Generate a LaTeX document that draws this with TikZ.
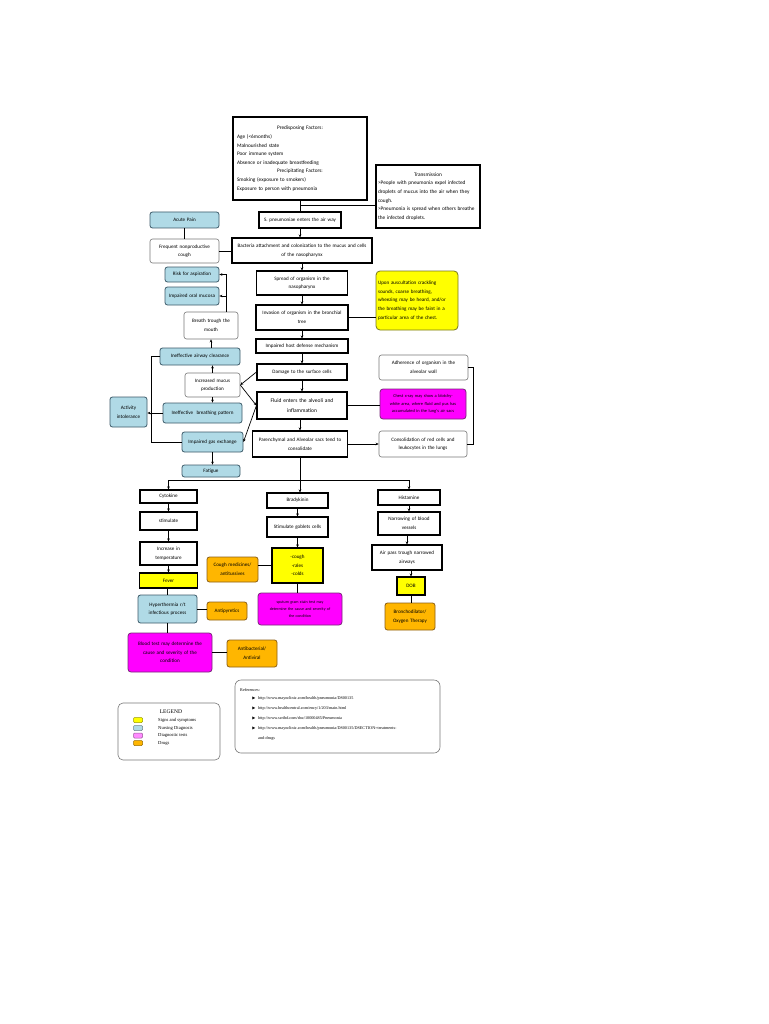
\documentclass[tikz,border=0pt]{standalone}
\usepackage{fontspec}
\setmainfont{Carlito}
\newfontfamily\reffont{Liberation Serif}
\newfontfamily\symfont{DejaVu Sans}
\usetikzlibrary{arrows.meta}
\definecolor{nblue}{RGB}{176,218,230}
\definecolor{nbluedraw}{RGB}{60,90,105}
\definecolor{norange}{RGB}{255,182,0}
\definecolor{norangedraw}{RGB}{140,95,20}
\definecolor{nmag}{RGB}{255,0,255}
\definecolor{nmagdraw}{RGB}{120,40,120}
\definecolor{nmaglt}{RGB}{255,140,255}
\definecolor{nyel}{RGB}{255,255,0}
\definecolor{nyeldraw}{RGB}{120,120,30}
\definecolor{lgray}{RGB}{120,120,120}
\tikzset{
  sz/.code 2 args={\pgfmathsetlengthmacro\boxtw{#1-4}\edef\boxtmp{\noexpand\pgfkeysalso{text width=\boxtw,minimum width=#1pt,minimum height=#2pt}}\boxtmp},
  base/.style={font=\fontsize{5.1}{8.6}\selectfont, align=center, inner sep=1pt},
  rbox/.style={base, draw=black, line width=1.1pt, fill=white},
  wbox/.style={base, draw=lgray, line width=0.6pt, rounded corners=2.5pt, fill=white},
  bbox/.style={base, draw=nbluedraw, line width=0.8pt, rounded corners=2.5pt, fill=nblue},
  obox/.style={base, draw=norangedraw, line width=0.8pt, rounded corners=2.5pt, fill=norange},
  mbox/.style={base, draw=nmagdraw, line width=0.8pt, rounded corners=3pt, fill=nmag},
  ybox/.style={base, draw=nyeldraw, line width=0.8pt, rounded corners=4pt, fill=nyel},
  yrect/.style={base, draw=black, line width=1.1pt, fill=nyel},
  ln/.style={line width=0.8pt},
  arr/.style={line width=0.7pt, -{Stealth[length=3pt,width=2.6pt]}},
  swatch/.style={draw=#1!60!black, fill=#1, line width=0.5pt, rounded corners=1pt, minimum width=9pt, minimum height=5pt, inner sep=0pt},
  legtext/.style={font=\reffont\fontsize{4.6}{5}\selectfont, anchor=west, inner sep=0pt},
  reftext/.style={font=\reffont\fontsize{4.2}{5}\selectfont, anchor=west, inner sep=0pt},
  bullet/.style={font=\symfont\fontsize{4}{5}\selectfont, inner sep=0pt},
}
\begin{document}
\begin{tikzpicture}[x=1pt,y=-1pt]
\useasboundingbox (0,0) rectangle (768,1024);
\fill[white] (0,0) rectangle (768,1024);

% ---------- central column ----------
\node[rbox, sz={134}{83}, text width=126pt, align=left, font=\fontsize{5.3}{8.6}\selectfont] (pre) at (300,158.5) {%
\centerline{Predisposing Factors:}
Age (<6months)\\
Malnourished state\\
Poor immune system\\
Absence or inadequate breastfeeding\par
\centerline{Precipitating Factors:}
Smoking (exposure to smokers)\\
Exposure to person with pneumonia};

\node[rbox, sz={104}{63}, text width=100pt, align=left, font=\fontsize{5.3}{8.6}\selectfont] (trans) at (428,196.5) {%
\centerline{Transmission}
>People with pneumonia expel infected\\
droplets of mucus into the air when they\\
cough.\\
>Pneumonia is spread when others breathe\\
the infected droplets.};

\node[rbox, sz={82}{16}] (spn) at (300,220) {S. pneumoniae enters the air way};
\node[rbox, sz={140}{25}] (bact) at (302,250.5) {Bacteria attachment and colonization to the mucus and cells\\of the nasopharynx};
\node[rbox, sz={91}{24}] (spread) at (302,283) {Spread of organism in the\\nasopharynx};
\node[rbox, sz={92}{25}] (inv) at (302,317.5) {Invasion of organism in the bronchial\\tree};
\node[rbox, sz={92}{14}] (host) at (302,346) {Impaired host defense mechanism};
\node[rbox, sz={90}{16}] (damage) at (302,372) {Damage to the surface cells};
\node[rbox, sz={90}{27}, font=\fontsize{5.5}{9.5}\selectfont] (fluid) at (302,405.5) {Fluid enters the alveoli and\\inflammation};
\node[rbox, sz={95}{26}] (paren) at (300,444) {Parenchymal and Alveolar sacs tend to\\consolidate};

% ---------- right column ----------
\node[ybox, sz={82}{59}, align=left] (yel1) at (417,300.5) {Upon auscultation crackling\\sounds, coarse breathing,\\wheezing may be heard, and/or\\the breathing may be faint in a\\particular area of the chest.};
\node[wbox, sz={89}{25}] (adher) at (423.5,367.5) {Adherence of organism in the\\alveolar wall};
\node[mbox, sz={86}{30}, font=\fontsize{4.4}{7.2}\selectfont] (chest) at (423,404) {Chest x-ray may show a blotchy-\\white area, where fluid and pus has\\accumulated in the lung's air sacs};
\node[wbox, sz={88}{26}] (consol) at (423,444) {Consolidation of red cells and\\leukocytes in the lungs};

% ---------- left column ----------
\node[bbox, sz={69}{16}] (acute) at (184.5,220) {Acute Pain};
\node[wbox, sz={69}{24}] (cough) at (184.5,251) {Frequent nonproductive\\cough};
\node[bbox, sz={54}{15}] (risk) at (192,274.5) {Risk for aspiration};
\node[bbox, sz={54}{18}] (oral) at (192,296) {Impaired oral mucosa};
\node[wbox, sz={54}{27}] (breath) at (211,325.5) {Breath trough the\\mouth};
\node[bbox, sz={80}{17}] (airway) at (200,356.5) {Ineffective airway clearance};
\node[wbox, sz={55}{24}] (mucus) at (212.5,385) {Increased mucus\\production};
\node[bbox, sz={79}{20}] (breathing) at (202.5,413) {Ineffective~~breathing pattern};
\node[bbox, sz={61}{20}] (gas) at (212.5,442) {Impaired gas exchange};
\node[bbox, sz={58}{12}] (fatigue) at (211,471) {Fatigue};
\node[bbox, sz={37}{30}] (activity) at (128.5,412) {Activity\\intolerance};

% ---------- bottom ----------
\node[rbox, sz={57}{13}] (cyto) at (168.5,496.5) {Cytokine};
\node[rbox, sz={57}{18}] (stim) at (168.5,521) {stimulate};
\node[rbox, sz={57}{23}] (incr) at (168.5,553.5) {Increase in\\temperature};
\node[yrect, sz={58}{15}] (fever) at (168.5,580.5) {Fever};
\node[bbox, sz={59}{28}] (hyper) at (167.5,609) {Hyperthermia r/t\\infectious process};
\node[obox, sz={40}{18}] (antipy) at (227,611) {Antipyretics};
\node[mbox, sz={84}{39}] (blood) at (170,652.5) {Blood test may determine the\\cause and severity of the\\condition};
\node[obox, sz={50}{27}] (antibac) at (252,653.5) {Antibacterial/\\Antiviral};

\node[rbox, sz={61}{15}] (brady) at (297.5,500.5) {Bradykinin};
\node[rbox, sz={61}{20}] (goblet) at (297.5,527) {Stimulate goblets cells};
\node[yrect, sz={51}{35}] (yel2) at (297.5,565.5) {-cough\\-rales\\-colds};
\node[obox, sz={51}{25}] (coughmed) at (232.5,569.5) {Cough medicines/\\antitussives};
\node[mbox, sz={84}{32}, font=\fontsize{4}{7}\selectfont] (sputum) at (300,609) {sputum gram stain test may\\determine the cause and severity of\\the condition};

\node[rbox, sz={62}{15}] (hist) at (409,497.5) {Histamine};
\node[rbox, sz={62}{23}] (narrow) at (409,523.5) {Narrowing of blood\\vessels};
\node[rbox, sz={70}{25}] (airpass) at (407,557.5) {Air pass trough narrowed\\airways};
\node[yrect, sz={28}{18}] (dob) at (411,586) {DOB};
\node[obox, sz={50}{27}] (broncho) at (410,616.5) {Bronchodilator/\\Oxygen Therapy};

% ---------- connectors: central ----------
\coordinate (j1) at (300,205);
\draw[ln] (pre.south) -- (j1);
\draw[ln] (j1) -- (j1 -| trans.west);
\draw[ln] (j1) -- (spn.north);
\draw[arr] (spn.south) -- (spn.south |- bact.north);
\draw[arr] (spread.north |- bact.south) -- (spread.north);
\draw[arr] (spread.south) -- (inv.north);
\draw[arr] (inv.south) -- (host.north);
\draw[arr] (host.south) -- (damage.north);
\draw[arr] (damage.south) -- (fluid.north);
\draw[arr] (fluid.south -| paren.north) -- (paren.north);
\draw[ln] (inv.east) -- (inv.east -| yel1.west);
\draw[ln] (fluid.east) -- (fluid.east -| chest.west);
\draw[arr] (paren.east) -- (paren.east -| consol.west);
\draw[ln] (adher.east) -- ++(5,0) |- (consol.east);

% ---------- connectors: left ----------
\draw[ln] (acute.south) -- (cough.north);
\draw[ln] (cough.east) -- (cough.east -| bact.west);
\draw[arr] (breath.north east) ++(-12,0) |- (risk.east);
\draw[arr] (breath.north east) ++(-12,0) |- (oral.east);
\draw[arr] (breath.south |- airway.north) -- (breath.south);
\draw[arr] (mucus.north) -- (mucus.north |- airway.south);
\draw[arr] (mucus.south) -- (mucus.south |- breathing.north);
\draw[arr] (gas.south) -- (gas.south |- fatigue.north);
\draw[ln] (airway.west) -- ++(-8,0) |- (gas.west);
\draw[arr] (breathing.west) -- (breathing.west -| activity.east);
\draw[arr] (damage.west) -- (mucus.east);
\draw[arr] (mucus.east) -- (fluid.west);
\draw[arr] (fluid.west) -- (gas.east);

% ---------- connectors: bottom ----------
\coordinate (bus) at (300,480);
\draw[ln] (paren.south) -- (bus);
\draw[ln] (cyto.north |- bus) -- (hist.north |- bus);
\draw[arr] (cyto.north |- bus) -- (cyto.north);
\draw[arr] (bus) -- (bus |- brady.north);
\draw[arr] (hist.north |- bus) -- (hist.north);
\draw[arr] (cyto.south) -- (stim.north);
\draw[arr] (stim.south) -- (incr.north);
\draw[arr] (incr.south) -- (fever.north);
\draw[ln] (fever.south -| hyper.north) -- (hyper.north);
\draw[ln] (hyper.east) -- (hyper.east -| antipy.west);
\draw[ln] (hyper.south) -- (hyper.south |- blood.north);
\draw[ln] (blood.east) -- (blood.east -| antibac.west);
\draw[arr] (brady.south) -- (goblet.north);
\draw[arr] (goblet.south) -- (yel2.north);
\draw[ln] (yel2.west) -- (yel2.west -| coughmed.east);
\draw[ln] (yel2.south) -- (yel2.south |- sputum.north);
\draw[arr] (hist.south) -- (narrow.north);
\draw[arr] (narrow.south -| airpass.north) -- (airpass.north);
\draw[arr] (airpass.south -| dob.north) -- (dob.north);
\draw[ln] (dob.south) -- (dob.south |- broncho.north);

% ---------- legend ----------
\node[draw=lgray, line width=0.6pt, rounded corners=5pt, minimum width=102pt, minimum height=57pt, inner sep=0pt] (legend) at (169,731.5) {};
\node[font=\reffont\fontsize{5.6}{6}\selectfont, inner sep=0pt] (legtitle) at (171,712) {LEGEND};
\node[swatch=nyel] (sw1) at (138,720) {};
\node[swatch=nblue] (sw2) at (138,728) {};
\node[swatch=nmaglt] (sw3) at (138,735.5) {};
\node[swatch=norange] (sw4) at (138,743) {};
\node[legtext] (lt1) at (158,720) {Signs and symptoms};
\node[legtext] (lt2) at (158,728) {Nursing Diagnosis};
\node[legtext] (lt3) at (158,735.5) {Diagnostic tests};
\node[legtext] (lt4) at (158,743) {Drugs};

% ---------- references ----------
\node[draw=lgray, line width=0.6pt, rounded corners=6pt, minimum width=205pt, minimum height=73pt, inner sep=0pt] (refs) at (337.5,716.5) {};
\node[reftext] (reftitle) at (240,690) {References:};
\node[bullet] (b1) at (254,698) {▶};
\node[bullet] (b2) at (254,708) {▶};
\node[bullet] (b3) at (254,718) {▶};
\node[bullet] (b4) at (254,728) {▶};
\node[reftext] (r1) at (258,698) {http://www.mayoclinic.com/health/pneumonia/DS00135};
\node[reftext] (r2) at (258,708) {http://www.healthcentral.com/ency/1/203/main.html};
\node[reftext] (r3) at (258,718) {http://www.scribd.com/doc/10000485/Pneumonia};
\node[reftext] (r4) at (258,728) {http://www.mayoclinic.com/health/pneumonia/DS00135/DSECTION=treatments-};
\node[reftext] (r5) at (258,738) {and-drugs};
\end{tikzpicture}
\end{document}
